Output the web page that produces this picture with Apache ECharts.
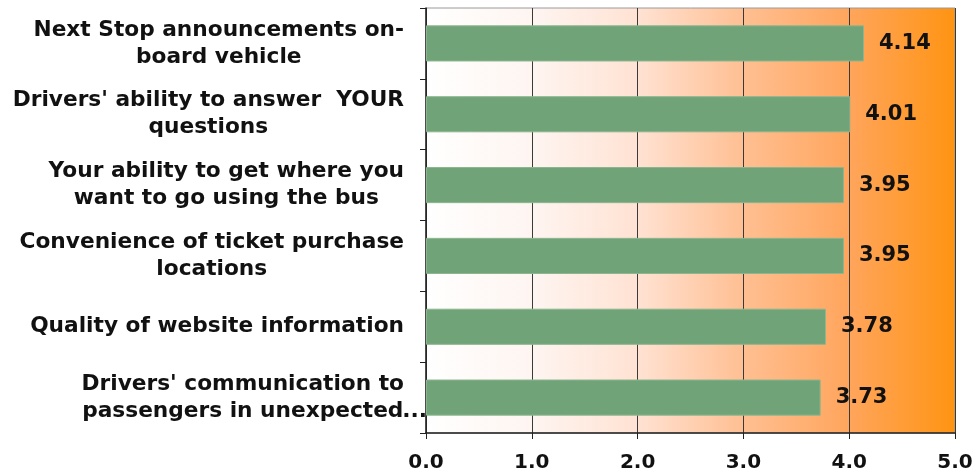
<!DOCTYPE html>
<html>
<head>
<meta charset="utf-8">
<script src="https://cdn.jsdelivr.net/npm/echarts@6/dist/echarts.min.js"></script>
<style>
  html, body { margin: 0; padding: 0; background: #fff; }
  #chart { width: 976px; height: 473px; }
</style>
</head>
<body>
<div id="chart"></div>
<script>
// 数据
const categories = [
  "Next Stop announcements on-\nboard vehicle",
  "Drivers' ability to answer  YOUR\nquestions",
  "Your ability to get where you\nwant to go using the bus",
  "Convenience of ticket purchase\nlocations",
  "Quality of website information",
  "Drivers' communication to\npassengers in unexpected..."
];
const scores = [4.14, 4.01, 3.95, 3.95, 3.78, 3.73];
const xTicks = [0, 1, 2, 3, 4, 5];

const font = "DejaVu Sans";
const labelSize = 21.7;

// 每行居中；截断的省略号溢出到右侧
function fmtCategory(v) {
  return v.split('\n').map(l => {
    if (l.endsWith('...')) {
      return '{c|' + l.slice(0, -3) + '}{d|\u00a0\u00a0\u00a0...}';
    }
    return '{c|' + l + '}';
  }).join('\n');
}

const myChart = echarts.init(document.getElementById('chart'));
myChart.setOption({
  animation: false,
  grid: {
    left: 426,
    right: 21,
    top: 8,
    bottom: 40,
    show: true,
    borderColor: '#9a9a9a',
    borderWidth: 1,
    backgroundColor: new echarts.graphic.LinearGradient(0, 0, 1, 0, [
      {offset: 0, color: '#ffffff'},
      {offset: 0.2, color: '#fef5f1'},
      {offset: 0.4, color: '#ffe2d3'},
      {offset: 0.6, color: '#ffbf92'},
      {offset: 0.8, color: '#ffa55c'},
      {offset: 1, color: '#ff9412'}
    ])
  },
  xAxis: {
    type: 'value',
    min: xTicks[0],
    max: xTicks[xTicks.length - 1],
    interval: 1,
    axisLine: {show: true, lineStyle: {color: '#222', width: 1.5}},
    axisTick: {show: true, length: 6, lineStyle: {color: '#222'}},
    splitLine: {show: true, lineStyle: {color: '#3a3a3a', width: 1}},
    axisLabel: {
      margin: 20,
      color: '#111',
      fontFamily: font,
      fontWeight: 'bold',
      fontSize: 20,
      formatter: v => v.toFixed(1)
    }
  },
  yAxis: {
    type: 'category',
    inverse: true,
    data: categories,
    axisLine: {show: true, lineStyle: {color: '#222', width: 1.5}},
    axisTick: {show: true, length: 6, lineStyle: {color: '#222'}},
    axisLabel: {
      margin: 22,
      color: '#111',
      fontFamily: font,
      fontWeight: 'bold',
      fontSize: labelSize,
      lineHeight: 27,
      align: 'right',
      formatter: fmtCategory,
      rich: {
        c: {align: 'center', fontFamily: font, fontWeight: 'bold', fontSize: labelSize, lineHeight: 27, color: '#111'},
        d: {align: 'center', width: 0, fontFamily: font, fontWeight: 'bold', fontSize: labelSize, lineHeight: 27, color: '#111'}
      }
    }
  },
  series: [{
    type: 'bar',
    data: scores,
    barWidth: '51%',
    itemStyle: {color: '#71a378', borderColor: '#8cb58f', borderWidth: 1},
    label: {
      show: true,
      position: 'right',
      distance: 15,
      color: '#111',
      fontFamily: font,
      fontWeight: 'bold',
      fontSize: 21,
      formatter: p => p.value.toFixed(2)
    }
  }]
});
</script>
</body>
</html>
